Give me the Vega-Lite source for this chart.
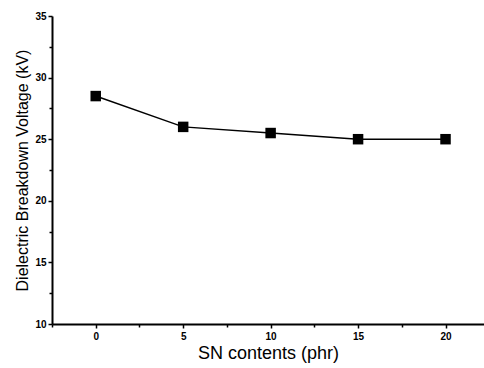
{
  "$schema": "https://vega.github.io/schema/vega-lite/v6.json",
  "width": 432,
  "height": 308,
  "autosize": {"type": "none"},
  "padding": {"left": 52, "top": 16, "right": 0, "bottom": 44},
  "background": "white",
  "config": {"view": {"stroke": null}, "font": "Liberation Sans"},
  "data": {"values": [
    {"sn": 0, "kv": 28.5},
    {"sn": 5, "kv": 26.0},
    {"sn": 10, "kv": 25.5},
    {"sn": 15, "kv": 25.0},
    {"sn": 20, "kv": 25.0}
  ]},
  "encoding": {
    "x": {"field": "sn", "type": "quantitative",
      "scale": {"domain": [-2.5, 22.2], "nice": false, "zero": false},
      "axis": {"values": [-2.5, 0, 2.5, 5, 7.5, 10, 12.5, 15, 17.5, 20], "labelExpr": "datum.value % 5 === 0 ? datum.label : ''",
        "title": "SN contents (phr)", "titleFontSize": 18, "titleFontWeight": "normal", "titleColor": "black", "titlePadding": 3,
        "labelFontSize": 10, "labelFontWeight": "bold", "labelColor": "black", "labelPadding": 3,
        "domainColor": "black", "domainWidth": 2, "tickColor": "black", "tickWidth": 1.5,
        "tickSize": {"expr": "datum.value % 5 === 0 ? 4 : 3"}, "grid": false}},
    "y": {"field": "kv", "type": "quantitative",
      "scale": {"domain": [10, 35], "nice": false, "zero": false},
      "axis": {"values": [10, 12.5, 15, 17.5, 20, 22.5, 25, 27.5, 30, 32.5, 35], "labelExpr": "datum.value % 5 === 0 ? datum.label : ''",
        "title": "Dielectric Breakdown Voltage (kV)", "titleFontSize": 16, "titleFontWeight": "normal", "titleColor": "black", "titlePadding": 4,
        "labelFontSize": 10, "labelFontWeight": "bold", "labelColor": "black", "labelPadding": 2,
        "domainColor": "black", "domainWidth": 2, "tickColor": "black", "tickWidth": 1.5,
        "tickSize": {"expr": "datum.value % 5 === 0 ? 4 : 3"}, "grid": false}}
  },
  "layer": [
    {"mark": {"type": "line", "color": "black", "strokeWidth": 1.5}},
    {"mark": {"type": "point", "shape": "square", "filled": true, "color": "black", "opacity": 1, "size": 110}}
  ]
}
